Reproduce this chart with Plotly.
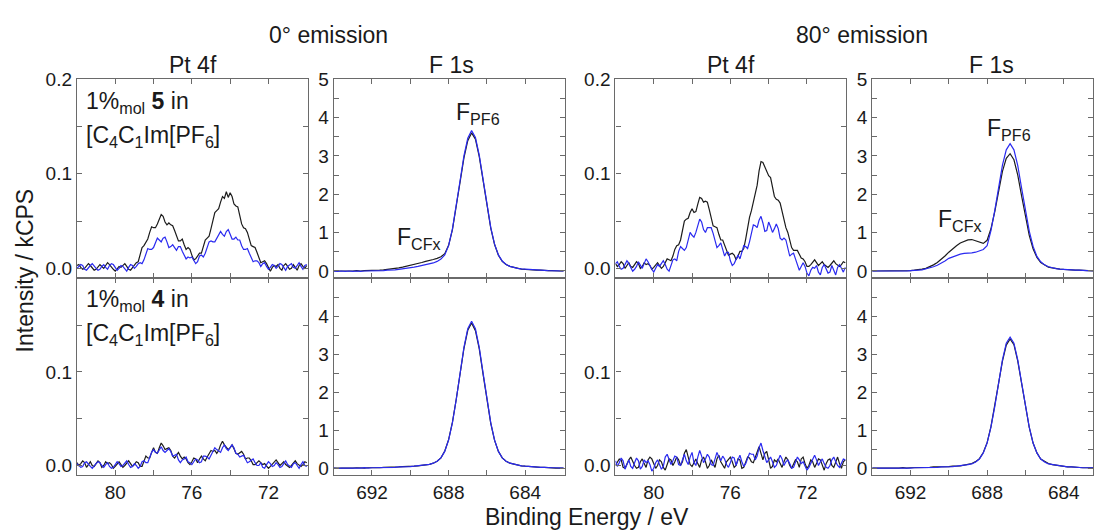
import numpy as np
import plotly.graph_objects as go

W, H = 1094, 531

# ---------------- Pt 4f data (CPS), binding energy 82.0 -> 70.0 eV, 0.1 eV step -------------
pt_0deg_cpd5_black = [3, 4, 1, -1, 0, 2, 5, 3, 0, -2,
                      -1, 1, 4, 2, 0, 3, 6, 4, 1, -1,
                      -3, 0, 2, 1, 3, 5, 2, -1, -2, 1,
                      3, 6, 7, 15, 22, 24, 27, 31, 38, 44,
                      43, 43, 47, 52, 57, 55, 49, 46, 48, 46,
                      45, 40, 34, 29, 29, 31, 25, 20, 22, 20,
                      14, 9, 10, 13, 16, 16, 22, 30, 32, 34,
                      42, 52, 59, 61, 63, 70, 76, 74, 81, 75,
                      80, 76, 68, 66, 65, 56, 47, 43, 42, 38,
                      30, 24, 23, 22, 17, 11, 6, 7, 8, 5,
                      1, -3, 1, 3, 2, 4, 0, -2, 3, 5,
                      2, -1, 0, 4, 1, -2, 3, 5, 2, 0, 3]
pt_0deg_cpd5_blue = [0, 2, 4, 3, -1, -2, 1, 3, 5, 2,
                     0, -2, -1, 2, 4, 1, -1, 3, 5, 4,
                     1, -2, 0, 3, 2, -1, -3, 1, 4, 3,
                     0, 2, 5, 6, 5, 9, 16, 21, 20, 20,
                     22, 28, 32, 30, 28, 32, 33, 28, 22, 23,
                     25, 22, 19, 23, 23, 18, 14, 10, 12, 11,
                     12, 8, 5, 7, 13, 14, 12, 16, 22, 28,
                     29, 28, 28, 32, 36, 39, 36, 34, 39, 41,
                     36, 31, 31, 33, 30, 30, 24, 20, 20, 21,
                     16, 11, 7, 8, 8, 6, 2, 5, 6, 2,
                     -1, 1, 4, 3, 0, 2, 5, 4, 1, -2,
                     2, 4, 5, 1, 0, 3, 6, 2, -1, 3, 4]
pt_0deg_cpd4_black = [3, 0, 2, 5, 3, -2, 1, 4, 0, -1,
                      2, 5, 3, -2, 0, 4, 2, 3, 1, -3,
                      -1, 2, 4, 1, -2, 0, 3, 5, 2, -1,
                      1, 4, 3, -1, -1, 5, 10, 8, 8, 14,
                      19, 14, 13, 19, 24, 21, 17, 18, 19, 16,
                      10, 8, 11, 14, 10, 7, 9, 7, 3, 1,
                      4, 8, 7, 3, 7, 10, 7, 5, 9, 13,
                      16, 15, 16, 13, 16, 22, 26, 22, 19, 17,
                      19, 22, 18, 13, 12, 14, 15, 12, 7, 8,
                      8, 5, 1, 1, 3, 5, 3, 1, 2, 0,
                      -3, -1, 1, 4, 6, 3, 0, 2, 4, 1,
                      -1, -2, 0, 3, 5, 2, 0, -1, 1, 4, 3]
pt_0deg_cpd4_blue = [2, 0, -2, -1, 3, 4, 1, -1, -3, 0,
                     2, 4, 3, 0, -2, 1, 3, -1, -3, -2,
                     1, 4, 2, -1, 0, 3, 5, 1, -2, -1,
                     2, 0, -3, -1, 4, 5, 3, 3, 9, 14,
                     17, 14, 13, 17, 20, 16, 14, 16, 18, 15,
                     10, 11, 12, 6, 3, 6, 7, 9, 4, 3,
                     1, 4, 7, 6, 3, 4, 10, 10, 9, 7,
                     11, 15, 19, 17, 15, 14, 19, 22, 18, 16,
                     19, 22, 19, 13, 12, 9, 10, 11, 7, 3,
                     4, 6, 7, 3, 0, 0, 3, -2, -3, 1,
                     4, 2, -1, 0, 3, 1, -2, -1, 2, 5,
                     1, -1, -2, 2, 3, 0, -3, 1, 4, 0, -1]
pt_80deg_cpd5_black = [5, 2, 4, 7, 5, 0, 3, 6, 2, 1,
                       4, 7, 5, 0, 2, 6, 4, 5, 3, -1,
                       1, 4, 6, 3, 0, 2, 6, 10, 9, 8,
                       13, 20, 24, 25, 30, 41, 50, 52, 53, 59,
                       63, 59, 60, 68, 75, 74, 70, 71, 70, 62,
                       52, 45, 44, 43, 36, 30, 30, 25, 19, 14,
                       15, 16, 14, 9, 13, 18, 18, 21, 31, 44,
                       54, 61, 70, 76, 88, 103, 113, 112, 107, 101,
                       98, 96, 86, 76, 73, 72, 69, 60, 49, 43,
                       38, 30, 22, 19, 19, 19, 15, 11, 10, 7,
                       2, 2, 4, 7, 9, 6, 3, 5, 7, 4,
                       2, 1, 3, 6, 8, 5, 3, 2, 4, 7, 6]
pt_80deg_cpd5_blue = [5, 7, 2, -1, 0, 4, 8, 5, 0, -3,
                      -1, 2, 7, 4, 0, 5, 10, 7, 2, -1,
                      -4, 0, 4, 2, 5, 8, 4, -1, -3, 4,
                      9, 10, 8, 18, 23, 21, 19, 22, 30, 38,
                      35, 33, 38, 45, 52, 49, 41, 38, 43, 43,
                      43, 37, 29, 22, 24, 27, 20, 13, 17, 17,
                      8, 3, 5, 10, 14, 10, 16, 24, 23, 21,
                      28, 39, 46, 45, 43, 51, 55, 48, 39, 40,
                      49, 44, 38, 42, 47, 42, 32, 30, 32, 30,
                      20, 13, 15, 16, 10, 3, -2, 2, 6, 2,
                      -5, -8, -2, 1, 0, 3, -4, -7, 1, 4,
                      0, -5, -4, 3, -2, -7, 1, 4, 0, -4, 1]
pt_80deg_cpd4_black = [0, 4, 7, 6, -2, -3, 2, 6, 9, 4,
                       0, -3, -2, 4, 7, 2, -2, 6, 9, 7,
                       2, -3, 0, 6, 4, -2, -5, 2, 7, 6,
                       0, 4, 9, 6, 0, 4, 13, 17, 8, 1,
                       -1, 4, 7, 2, -2, 6, 9, 4, -3, 0,
                       6, 2, -2, 7, 11, 4, 0, -3, 4, 6,
                       9, 4, -2, 0, 7, 6, -3, -2, 4, 9,
                       8, 4, 3, 9, 15, 20, 13, 6, 13, 15,
                       6, -3, -1, 6, 4, 7, 2, -2, 4, 9,
                       6, 0, -3, 2, 6, 4, -2, 7, 9, 2,
                       -3, 0, 6, 4, -2, 2, 7, 6, 0, -5,
                       2, 6, 7, 0, -2, 4, 9, 2, -3, 4, 6]
pt_80deg_cpd4_blue = [5, -1, 3, 8, 5, -4, 1, 6, -1, -3,
                      3, 8, 5, -4, -1, 6, 3, 5, 1, -6,
                      -3, 3, 6, 1, -4, -1, 9, 12, 7, 1,
                      5, 10, 9, 1, 0, 7, 12, 5, 1, 9,
                      14, 3, 0, 9, 16, 10, 3, 7, 12, 9,
                      1, 0, 7, 14, 9, 5, 10, 7, 1, -2,
                      3, 9, 8, 0, 6, 11, 4, -1, 2, 8,
                      13, 12, 12, 6, 10, 19, 24, 16, 8, 3,
                      6, 9, 4, -2, 0, 6, 11, 7, 0, 4,
                      6, 2, -3, -2, 4, 9, 6, 2, 4, 0,
                      -5, -2, 2, 7, 11, 6, 0, 4, 7, 2,
                      -2, -3, 0, 6, 9, 4, 0, -2, 2, 7, 6]

# ---------------- F 1s data (kCPS), binding energy 694.0 -> 682.0 eV, 0.2 eV step -------------
f_0deg_cpd5_black = [0.00, 0.00, -0.01, 0.00, 0.00, 0.00, 0.01, 0.00, 0.01, 0.01,
                     0.01, 0.02, 0.02, 0.03, 0.04, 0.05, 0.06, 0.08, 0.10, 0.12,
                     0.15, 0.17, 0.20, 0.22, 0.25, 0.27, 0.30, 0.33, 0.37, 0.45,
                     0.67, 1.08, 1.65, 2.32, 2.95, 3.40, 3.60, 3.44, 2.98, 2.34,
                     1.69, 1.12, 0.69, 0.41, 0.25, 0.17, 0.12, 0.09, 0.07, 0.05,
                     0.04, 0.03, 0.03, 0.02, 0.02, 0.01, 0.01, 0.01, 0.00, 0.00, 0.00]
f_0deg_cpd5_blue = [0.00, -0.01, 0.00, -0.01, 0.00, -0.01, 0.00, -0.01, 0.00, 0.00,
                    0.01, 0.00, 0.01, 0.01, 0.02, 0.02, 0.03, 0.04, 0.05, 0.06,
                    0.08, 0.10, 0.12, 0.14, 0.16, 0.18, 0.21, 0.25, 0.31, 0.42,
                    0.66, 1.10, 1.68, 2.36, 3.00, 3.46, 3.66, 3.48, 3.02, 2.38,
                    1.72, 1.14, 0.70, 0.42, 0.26, 0.17, 0.12, 0.09, 0.07, 0.055,
                    0.045, 0.035, 0.03, 0.025, 0.02, 0.015, 0.01, 0.01, 0.005, 0.00, 0.00]
f_0deg_cpd4_black = [0.00, 0.00, 0.00, -0.01, 0.00, 0.00, 0.01, 0.00, 0.00, 0.01,
                     0.01, 0.00, 0.01, 0.02, 0.02, 0.02, 0.03, 0.03, 0.04, 0.04,
                     0.05, 0.05, 0.06, 0.07, 0.08, 0.10, 0.13, 0.18, 0.27, 0.45,
                     0.75, 1.21, 1.82, 2.50, 3.15, 3.63, 3.82, 3.62, 3.14, 2.47,
                     1.78, 1.18, 0.73, 0.44, 0.27, 0.18, 0.13, 0.10, 0.08, 0.06,
                     0.05, 0.04, 0.03, 0.03, 0.02, 0.02, 0.01, 0.01, 0.00, 0.00, 0.00]
f_0deg_cpd4_blue = [0.00, -0.01, 0.00, 0.00, -0.01, 0.00, 0.00, 0.00, 0.01, 0.00,
                    0.01, 0.01, 0.01, 0.01, 0.02, 0.02, 0.02, 0.03, 0.03, 0.04,
                    0.04, 0.05, 0.06, 0.07, 0.08, 0.10, 0.13, 0.18, 0.27, 0.44,
                    0.74, 1.20, 1.81, 2.51, 3.18, 3.67, 3.87, 3.67, 3.18, 2.51,
                    1.81, 1.20, 0.74, 0.44, 0.27, 0.18, 0.13, 0.10, 0.07, 0.06,
                    0.05, 0.04, 0.03, 0.03, 0.02, 0.02, 0.01, 0.01, 0.01, 0.00, 0.00]
f_80deg_cpd5_black = [0.00, 0.00, 0.01, 0.00, 0.00, 0.00, 0.00, 0.01, 0.00, 0.01,
                      0.01, 0.02, 0.03, 0.05, 0.07, 0.11, 0.16, 0.22, 0.30, 0.39,
                      0.49, 0.58, 0.66, 0.73, 0.78, 0.81, 0.82, 0.79, 0.75, 0.72,
                      0.80, 1.10, 1.55, 2.08, 2.60, 2.94, 3.06, 2.90, 2.50, 1.96,
                      1.40, 0.93, 0.58, 0.35, 0.22, 0.15, 0.10, 0.08, 0.06, 0.05,
                      0.04, 0.03, 0.03, 0.02, 0.02, 0.01, 0.01, 0.00, 0.00, 0.00, 0.00]
f_80deg_cpd5_blue = [0.00, 0.00, 0.00, -0.01, 0.00, 0.00, -0.01, 0.00, 0.00, 0.00,
                     0.01, 0.01, 0.02, 0.03, 0.05, 0.08, 0.11, 0.15, 0.20, 0.26,
                     0.33, 0.37, 0.41, 0.44, 0.46, 0.46, 0.47, 0.49, 0.52, 0.56,
                     0.66, 1.05, 1.58, 2.18, 2.76, 3.16, 3.32, 3.16, 2.75, 2.16,
                     1.56, 1.04, 0.64, 0.38, 0.24, 0.16, 0.11, 0.08, 0.06, 0.05,
                     0.04, 0.03, 0.03, 0.02, 0.02, 0.01, 0.01, 0.01, 0.00, 0.00, 0.00]
f_80deg_cpd4_black = [0.00, 0.00, 0.00, 0.00, -0.01, 0.00, 0.00, 0.00, 0.01, 0.00,
                      0.01, 0.01, 0.01, 0.02, 0.02, 0.02, 0.03, 0.03, 0.03, 0.04,
                      0.04, 0.05, 0.05, 0.06, 0.08, 0.10, 0.12, 0.17, 0.25, 0.41,
                      0.67, 1.09, 1.62, 2.24, 2.82, 3.24, 3.40, 3.25, 2.82, 2.22,
                      1.60, 1.07, 0.66, 0.40, 0.24, 0.17, 0.12, 0.09, 0.07, 0.05,
                      0.04, 0.03, 0.03, 0.02, 0.02, 0.01, 0.01, 0.00, 0.00, 0.00, 0.00]
f_80deg_cpd4_blue = [0.00, 0.00, -0.01, 0.00, 0.00, 0.00, -0.01, 0.00, 0.00, 0.00,
                     0.00, 0.01, 0.01, 0.01, 0.01, 0.02, 0.02, 0.02, 0.03, 0.03,
                     0.04, 0.04, 0.05, 0.06, 0.07, 0.09, 0.11, 0.16, 0.24, 0.40,
                     0.66, 1.08, 1.62, 2.25, 2.85, 3.29, 3.45, 3.29, 2.85, 2.25,
                     1.62, 1.08, 0.66, 0.40, 0.24, 0.16, 0.11, 0.09, 0.07, 0.05,
                     0.04, 0.03, 0.03, 0.02, 0.02, 0.01, 0.01, 0.01, 0.00, 0.00, 0.00]

# tick values and labels
pt_x_major = [80, 76, 72]
pt_x_minor = [78, 74]
f_x_major = [692, 688, 684]
f_x_minor = [690, 686]
pt_y_major_top = [0.0, 0.1, 0.2]
pt_y_major_bottom = [0.0, 0.1]
pt_y_minor = [0.05, 0.15]
f_y_major_top = [0, 1, 2, 3, 4, 5]
f_y_major_bottom = [0, 1, 2, 3, 4]
f_y_minor = [0.5, 1.5, 2.5, 3.5, 4.5]

PT_START, PT_STEP = 82.0, 0.1
F_START, F_STEP = 694.0, 0.2


def energies(start, step, n):
    return np.round(start - step * np.arange(n), 2)


BLACK = "#1c1c1c"
BLUE = "#2a2af0"
FRAME = "#6a6a6a"
FONT = "Liberation Sans, Arial, sans-serif"
TXT = "#1a1a1a"

COLS = [(77, 308), (334, 566), (616, 847), (873, 1094)]
ROWS = [(71, 275), (275, 477)]

fig = go.Figure()

subplots = [
    (0, 0, "pt", pt_0deg_cpd5_black, pt_0deg_cpd5_blue),
    (1, 0, "f", f_0deg_cpd5_black, f_0deg_cpd5_blue),
    (2, 0, "pt", pt_80deg_cpd5_black, pt_80deg_cpd5_blue),
    (3, 0, "f", f_80deg_cpd5_black, f_80deg_cpd5_blue),
    (0, 1, "pt", pt_0deg_cpd4_black, pt_0deg_cpd4_blue),
    (1, 1, "f", f_0deg_cpd4_black, f_0deg_cpd4_blue),
    (2, 1, "pt", pt_80deg_cpd4_black, pt_80deg_cpd4_blue),
    (3, 1, "f", f_80deg_cpd4_black, f_80deg_cpd4_blue),
]

axis_common = dict(
    showline=True, linecolor=FRAME, linewidth=1.2, mirror="ticks",
    ticks="inside", ticklen=5, tickwidth=1, tickcolor=FRAME,
    showgrid=False, zeroline=False,
    tickfont=dict(family=FONT, size=19, color=TXT),
)


def minor(vals):
    return dict(tickmode="array", tickvals=vals, ticks="inside", ticklen=5,
                tickwidth=1, tickcolor=FRAME, showgrid=False)


layout = {}
for i, (c, r, kind, blk, blu) in enumerate(subplots, start=1):
    xa = "x" if i == 1 else f"x{i}"
    ya = "y" if i == 1 else f"y{i}"
    if kind == "pt":
        xb = energies(PT_START, PT_STEP, len(blk))
        xu = energies(PT_START, PT_STEP, len(blu))
        yb = np.array(blk) / 1000.0
        yu = np.array(blu) / 1000.0
    else:
        xb = energies(F_START, F_STEP, len(blk))
        xu = energies(F_START, F_STEP, len(blu))
        yb = np.array(blk)
        yu = np.array(blu)
    fig.add_trace(go.Scatter(x=xb, y=yb, mode="lines", line=dict(color=BLACK, width=1.2),
                             xaxis=xa, yaxis=ya, showlegend=False, hoverinfo="skip"))
    fig.add_trace(go.Scatter(x=xu, y=yu, mode="lines", line=dict(color=BLUE, width=1.2),
                             xaxis=xa, yaxis=ya, showlegend=False, hoverinfo="skip"))

    x0, x1 = COLS[c]
    y0, y1 = ROWS[r]
    xdom = [x0 / W, x1 / W]
    ydom = [1 - y1 / H, 1 - y0 / H]
    px_per_ev = 19.17
    if kind == "pt":
        xr = [82.0, 82.0 - (x1 - x0) / px_per_ev]
        xtv, xmin = pt_x_major, pt_x_minor
        xtt = [str(v) for v in xtv]
        yr = [-0.0105, 0.2]
        ytv = pt_y_major_top if r == 0 else pt_y_major_bottom
        ytt = [f"{v:.1f}" for v in ytv]
        ymin = pt_y_minor
    else:
        xr = [694.0, 694.0 - (x1 - x0) / px_per_ev]
        xtv, xmin = f_x_major, f_x_minor
        xtt = [str(v) for v in xtv]
        yr = [-0.19, 5.0]
        ytv = f_y_major_top if r == 0 else f_y_major_bottom
        ytt = [str(v) for v in ytv]
        ymin = f_y_minor
    layout["xaxis" if i == 1 else f"xaxis{i}"] = dict(
        axis_common, domain=xdom, range=xr, anchor=ya,
        tickmode="array", tickvals=xtv, ticktext=xtt, minor=minor(xmin),
        showticklabels=(r == 1),
    )
    layout["yaxis" if i == 1 else f"yaxis{i}"] = dict(
        axis_common, domain=ydom, range=yr, anchor=xa,
        tickmode="array", tickvals=ytv, ticktext=ytt, minor=minor(ymin),
    )

fig.update_layout(**layout)


def ann(text, x, y, size=22, xanchor="center", yanchor="middle", angle=0):
    fig.add_annotation(text=text, x=x / W, y=1 - y / H, xref="paper", yref="paper",
                       showarrow=False, xanchor=xanchor, yanchor=yanchor, textangle=angle,
                       font=dict(family=FONT, size=size, color=TXT))


# headers
ann("0° emission", 329, 26, size=23)
ann("80° emission", 863, 26, size=23)
ann("Pt 4f", 193, 56, size=23)
ann("F 1s", 452, 56, size=23)
ann("Pt 4f", 732, 56, size=23)
ann("F 1s", 992, 56, size=23)

# sample labels
ann("1%<sub>mol</sub> <b>5</b> in", 84, 95, size=23, xanchor="left")
ann("[C<sub>4</sub>C<sub>1</sub>Im[PF<sub>6</sub>]", 84, 130, size=23, xanchor="left")
ann("1%<sub>mol</sub> <b>4</b> in", 84, 298, size=23, xanchor="left")
ann("[C<sub>4</sub>C<sub>1</sub>Im[PF<sub>6</sub>]", 84, 333, size=23, xanchor="left")

# peak labels
ann("F<sub>PF6</sub>", 478, 106, size=23)
ann("F<sub>CFx</sub>", 419, 234, size=23)
ann("F<sub>PF6</sub>", 1010, 123, size=23)
ann("F<sub>CFx</sub>", 961, 216, size=23)

# axis titles
ann("Intensity / kCPS", 25, 267, size=23, angle=-90)
ann("Binding Energy / eV", 588, 520, size=23)

fig.update_layout(
    width=W, height=H,
    margin=dict(l=0, r=0, t=0, b=0),
    paper_bgcolor="white", plot_bgcolor="white",
    showlegend=False,
    font=dict(family=FONT, color=TXT),
)

fig.write_html("out.html")
